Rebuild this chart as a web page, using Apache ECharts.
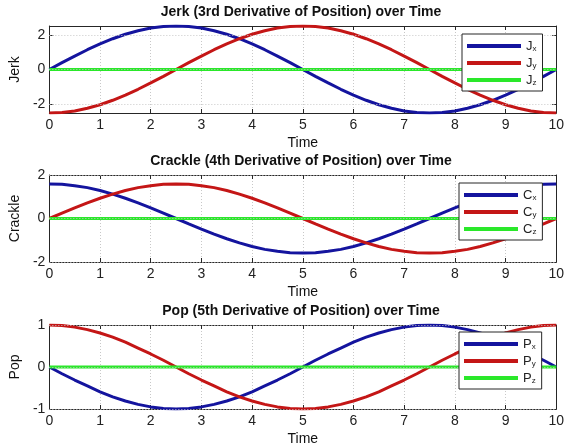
<!DOCTYPE html>
<html>
<head>
<meta charset="utf-8">
<script src="https://cdn.jsdelivr.net/npm/echarts@6/dist/echarts.min.js"></script>
<style>
  html, body { margin: 0; padding: 0; background: #fff; }
  #chart { width: 567px; height: 447px; }
</style>
</head>
<body>
<div id="chart"></div>
<script>
// Sample times (s)
const time = [0, 0.25, 0.5, 0.75, 1, 1.25, 1.5, 1.75, 2, 2.25, 2.5, 2.75, 3, 3.25, 3.5, 3.75, 4, 4.25, 4.5, 4.75,
  5, 5.25, 5.5, 5.75, 6, 6.25, 6.5, 6.75, 7, 7.25, 7.5, 7.75, 8, 8.25, 8.5, 8.75, 9, 9.25, 9.5, 9.75, 10];

// Jerk components
const jerkX = [0, 0.40, 0.78, 1.15, 1.49, 1.79, 2.05, 2.25, 2.41, 2.50, 2.53, 2.50, 2.41, 2.25, 2.05, 1.79, 1.49, 1.15, 0.78, 0.40,
  0, -0.40, -0.78, -1.15, -1.49, -1.79, -2.05, -2.25, -2.41, -2.50, -2.53, -2.50, -2.41, -2.25, -2.05, -1.79, -1.49, -1.15, -0.78, -0.40, 0];
const jerkY = [-2.53, -2.50, -2.41, -2.25, -2.05, -1.79, -1.49, -1.15, -0.78, -0.40, 0, 0.40, 0.78, 1.15, 1.49, 1.79, 2.05, 2.25, 2.41, 2.50,
  2.53, 2.50, 2.41, 2.25, 2.05, 1.79, 1.49, 1.15, 0.78, 0.40, 0, -0.40, -0.78, -1.15, -1.49, -1.79, -2.05, -2.25, -2.41, -2.50, -2.53];
const jerkZ = [0, 0, 0, 0, 0, 0, 0, 0, 0, 0, 0, 0, 0, 0, 0, 0, 0, 0, 0, 0, 0, 0, 0, 0, 0, 0, 0, 0, 0, 0, 0, 0, 0, 0, 0, 0, 0, 0, 0, 0, 0];

// Crackle components
const crackleX = [1.59, 1.57, 1.51, 1.42, 1.29, 1.12, 0.93, 0.72, 0.49, 0.25, 0, -0.25, -0.49, -0.72, -0.93, -1.12, -1.29, -1.42, -1.51, -1.57,
  -1.59, -1.57, -1.51, -1.42, -1.29, -1.12, -0.93, -0.72, -0.49, -0.25, 0, 0.25, 0.49, 0.72, 0.93, 1.12, 1.29, 1.42, 1.51, 1.57, 1.59];
const crackleY = [0, 0.25, 0.49, 0.72, 0.93, 1.12, 1.29, 1.42, 1.51, 1.57, 1.59, 1.57, 1.51, 1.42, 1.29, 1.12, 0.93, 0.72, 0.49, 0.25,
  0, -0.25, -0.49, -0.72, -0.93, -1.12, -1.29, -1.42, -1.51, -1.57, -1.59, -1.57, -1.51, -1.42, -1.29, -1.12, -0.93, -0.72, -0.49, -0.25, 0];
const crackleZ = [0, 0, 0, 0, 0, 0, 0, 0, 0, 0, 0, 0, 0, 0, 0, 0, 0, 0, 0, 0, 0, 0, 0, 0, 0, 0, 0, 0, 0, 0, 0, 0, 0, 0, 0, 0, 0, 0, 0, 0, 0];

// Pop components
const popX = [0, -0.16, -0.31, -0.45, -0.59, -0.71, -0.81, -0.89, -0.95, -0.99, -1.00, -0.99, -0.95, -0.89, -0.81, -0.71, -0.59, -0.45, -0.31, -0.16,
  0, 0.16, 0.31, 0.45, 0.59, 0.71, 0.81, 0.89, 0.95, 0.99, 1.00, 0.99, 0.95, 0.89, 0.81, 0.71, 0.59, 0.45, 0.31, 0.16, 0];
const popY = [1.00, 0.99, 0.95, 0.89, 0.81, 0.71, 0.59, 0.45, 0.31, 0.16, 0, -0.16, -0.31, -0.45, -0.59, -0.71, -0.81, -0.89, -0.95, -0.99,
  -1.00, -0.99, -0.95, -0.89, -0.81, -0.71, -0.59, -0.45, -0.31, -0.16, 0, 0.16, 0.31, 0.45, 0.59, 0.71, 0.81, 0.89, 0.95, 0.99, 1.00];
const popZ = [0, 0, 0, 0, 0, 0, 0, 0, 0, 0, 0, 0, 0, 0, 0, 0, 0, 0, 0, 0, 0, 0, 0, 0, 0, 0, 0, 0, 0, 0, 0, 0, 0, 0, 0, 0, 0, 0, 0, 0, 0];

// Axis ticks
const timeTicks = [0, 1, 2, 3, 4, 5, 6, 7, 8, 9, 10];
const jerkTicks = [-2, 0, 2];
const crackleTicks = [-2, 0, 2];
const popTicks = [-1, 0, 1];

const panels = [
  { title: 'Jerk (3rd Derivative of Position) over Time', ylabel: 'Jerk', letter: 'J',
    series: [jerkX, jerkY, jerkZ], yMin: -2.53, yMax: 2.53, ticks: jerkTicks },
  { title: 'Crackle (4th Derivative of Position) over Time', ylabel: 'Crackle', letter: 'C',
    series: [crackleX, crackleY, crackleZ], yMin: -2, yMax: 2, ticks: crackleTicks },
  { title: 'Pop (5th Derivative of Position) over Time', ylabel: 'Pop', letter: 'P',
    series: [popX, popY, popZ], yMin: -1, yMax: 1, ticks: popTicks }
];

const colors = ['#14149e', '#c41616', '#2ae82a'];
const comps = ['x', 'y', 'z'];
const FONT = 'Liberation Sans, Arial, sans-serif';

const gridBoxes = [
  { top: 26, height: 87 },
  { top: 175, height: 87 },
  { top: 325, height: 85 }
];
const legendBoxes = [
  { left: 462, top: 34 },
  { left: 459, top: 183 },
  { left: 459, top: 332 }
];

const option = {
  backgroundColor: '#ffffff',
  animation: false,
  title: [], grid: [], xAxis: [], yAxis: [], legend: [], series: []
};

const axisLine = { show: true, onZero: false, lineStyle: { color: '#262626', width: 1 } };
const tickStyle = { color: '#262626', width: 1 };
const gridLine = { show: true, lineStyle: { color: '#c8c8c8', type: [1, 2], width: 1 } };

panels.forEach((p, i) => {
  const g = gridBoxes[i];
  option.grid.push({ left: 45, right: 10, top: g.top, height: g.height, show: false });
  option.title.push({
    text: p.title, left: 301, top: g.top - 21, textAlign: 'center', padding: 0,
    textStyle: { fontFamily: FONT, fontSize: 14, fontWeight: 'bold', color: '#111' }
  });
  // bottom x axis with labels
  option.xAxis.push({
    type: 'value', gridIndex: i, min: 0, max: 10, interval: 1, position: 'bottom',
    name: 'Time', nameLocation: 'middle', nameGap: 23,
    nameTextStyle: { fontFamily: FONT, fontSize: 14, color: '#111' },
    axisLine, axisTick: { show: true, inside: true, length: 4, lineStyle: tickStyle },
    axisLabel: { fontFamily: FONT, fontSize: 14, color: '#222', margin: 5, customValues: timeTicks },
    splitLine: gridLine
  });
  // top x axis carrying only tick marks
  option.xAxis.push({
    type: 'value', gridIndex: i, min: 0, max: 10, interval: 1, position: 'top',
    axisLine, axisTick: { show: true, inside: true, length: 4, lineStyle: tickStyle },
    axisLabel: { show: false }, splitLine: { show: false }
  });
  // left y axis with labels
  option.yAxis.push({
    type: 'value', gridIndex: i, min: p.yMin, max: p.yMax, position: 'left',
    name: p.ylabel, nameLocation: 'middle', nameGap: 22, nameRotate: 90,
    nameTextStyle: { fontFamily: FONT, fontSize: 14, color: '#111' },
    axisLine,
    axisTick: { show: true, inside: true, length: 4, customValues: p.ticks, lineStyle: tickStyle },
    axisLabel: { fontFamily: FONT, fontSize: 14, color: '#222', margin: 4, customValues: p.ticks },
    splitLine: { show: false }
  });
  // right y axis carrying only tick marks
  option.yAxis.push({
    type: 'value', gridIndex: i, min: p.yMin, max: p.yMax, position: 'right',
    axisLine,
    axisTick: { show: true, inside: true, length: 4, customValues: p.ticks, lineStyle: tickStyle },
    axisLabel: { show: false }, splitLine: { show: false }
  });

  const names = comps.map(c => p.letter + c);
  const lb = legendBoxes[i];
  option.legend.push({
    data: names.map(n => ({ name: n, icon: 'rect' })),
    orient: 'vertical', left: lb.left, top: lb.top, z: 20,
    backgroundColor: '#ffffff', borderColor: '#262626', borderWidth: 1, borderRadius: 0,
    padding: [5, 6, 4, 5], itemWidth: 54, itemHeight: 4, itemGap: 3,
    selectedMode: false,
    formatter: n => '{m|' + n[0] + '}{s|' + n.slice(1) + '}',
    textStyle: {
      fontFamily: FONT, color: '#222', lineHeight: 14,
      rich: {
        m: { fontFamily: FONT, fontSize: 13, color: '#222', lineHeight: 14 },
        s: { fontFamily: FONT, fontSize: 8, color: '#222', lineHeight: 14, verticalAlign: 'bottom', padding: [5, 0, 0, 0] }
      }
    }
  });

  p.series.forEach((vals, k) => {
    option.series.push({
      name: names[k], type: 'line', xAxisIndex: i * 2, yAxisIndex: i * 2,
      data: time.map((t, j) => [t, vals[j]]),
      showSymbol: false, symbol: 'none', clip: true,
      lineStyle: { color: colors[k], width: 3 }, itemStyle: { color: colors[k] },
      z: 2
    });
  });

  // horizontal dotted grid lines at the labelled y ticks
  option.series.push({
    type: 'line', xAxisIndex: i * 2, yAxisIndex: i * 2, data: [], silent: true,
    markLine: {
      silent: true, symbol: 'none', label: { show: false },
      lineStyle: { color: '#c8c8c8', type: [1, 2], width: 1 },
      data: p.ticks.map(v => ({ yAxis: v }))
    },
    z: 1
  });
});

const chart = echarts.init(document.getElementById('chart'), null, { renderer: 'canvas' });
chart.setOption(option);
</script>
</body>
</html>
